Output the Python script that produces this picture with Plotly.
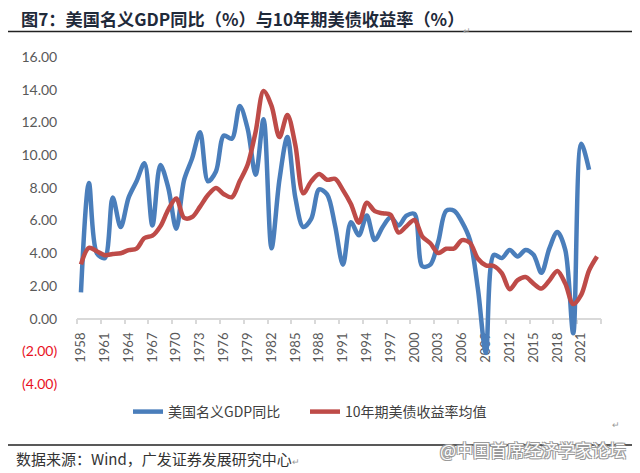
import plotly.graph_objects as go

years = list(range(1958, 2024))
gdp_yoy = [1.6, 8.3, 4.0, 3.7, 7.4, 5.6, 7.4, 8.4, 9.5, 5.7, 9.4, 8.0, 5.5, 8.5, 9.8, 11.4,
           8.4, 9.0, 11.2, 11.0, 13.0, 11.6, 8.8, 12.2, 4.3, 8.5, 11.1, 7.4, 5.6, 6.1, 7.9,
           7.6, 5.7, 3.3, 5.9, 5.1, 6.3, 4.8, 5.6, 6.2, 5.7, 6.3, 6.4, 3.2, 3.3, 4.7, 6.6,
           6.6, 5.9, 4.8, 1.8, -2.1, 3.9, 3.7, 4.2, 3.8, 4.2, 3.9, 2.8, 4.3, 5.3, 4.2, -0.9,
           10.7, 9.1]
gdp_years = years[:len(gdp_yoy)]
ust10y = [3.32, 4.33, 4.12, 3.88, 3.95, 4.00, 4.19, 4.28, 4.93, 5.07, 5.64, 6.67, 7.35,
          6.16, 6.21, 6.85, 7.56, 7.99, 7.61, 7.42, 8.41, 9.43, 11.43, 13.92, 13.01, 11.10,
          12.46, 10.62, 7.67, 8.39, 8.85, 8.49, 8.55, 7.86, 7.01, 5.87, 7.09, 6.57, 6.44,
          6.35, 5.26, 5.65, 6.03, 5.02, 4.61, 4.01, 4.27, 4.29, 4.80, 4.63, 3.66, 3.26,
          3.22, 2.78, 1.80, 2.35, 2.54, 2.14, 1.84, 2.33, 2.91, 2.14, 0.89, 1.45, 2.95, 3.80]

xtick_years = list(range(1958, 2022, 3))
xtick_labels = [str(y) for y in xtick_years]
ytick_vals = [-4, -2, 0, 2, 4, 6, 8, 10, 12, 14, 16]
ytick_labels = ['<span style="color:#E8101E">(4.00)</span>',
                '<span style="color:#E8101E">(2.00)</span>',
                "0.00", "2.00", "4.00", "6.00", "8.00", "10.00", "12.00", "14.00", "16.00"]

name_gdp = "美国名义GDP同比"
name_ust = "10年期美债收益率均值"
title_text = "图7：美国名义GDP同比（%）与10年期美债收益率（%）"
source_text = "数据来源：Wind，广发证券发展研究中心"
watermark = "@中国首席经济学家论坛"

# the page body adds an 8px margin; work in page pixels and shift
OFF = 8
W, H = 640 - OFF, 473 - OFF
L, R, T, B = 77 - OFF, 39, 57 - OFF, 89
PW, PH = W - L - R, H - T - B


def px(x):
    return (x - OFF - L) / PW


def py(y):
    return (H - B - (y - OFF)) / PH


CJK = "Noto Sans CJK SC"
NUM = "Lato, 'Noto Sans', sans-serif"

fig = go.Figure()
fig.add_trace(go.Scatter(x=gdp_years, y=gdp_yoy, mode="lines", name=name_gdp, legend="legend",
                         line=dict(color="#4A7EBB", width=4.5, shape="spline", smoothing=0.9)))
fig.add_trace(go.Scatter(x=years, y=ust10y, mode="lines", name=name_ust, legend="legend2",
                         line=dict(color="#BE4B48", width=4.5, shape="spline", smoothing=0.9)))

legend_common = dict(orientation="h", xanchor="left", yanchor="middle", y=py(412),
                     font=dict(family=CJK, size=14, color="#404040"),
                     bgcolor="rgba(0,0,0,0)")

fig.update_layout(
    width=W, height=H,
    margin=dict(l=L, r=R, t=T, b=B, autoexpand=False),
    paper_bgcolor="white", plot_bgcolor="white",
    showlegend=True,
    legend=dict(x=px(128), **legend_common),
    legend2=dict(x=px(305), **legend_common),
    title=dict(text=title_text, x=(21 - OFF) / W, xanchor="left", xref="container",
               y=1 - (20 - OFF) / H, yanchor="middle", yref="container", automargin=False,
               font=dict(family=CJK, size=17.2, color="#1F2A3A", weight="bold")),
    xaxis=dict(range=[1957.5, 2023.5], tickmode="array", tickvals=xtick_years,
               ticktext=xtick_labels, tickangle=-90, anchor="free", position=0.2,
               showline=True, linecolor="#D9D9D9", linewidth=1.5, showgrid=False,
               zeroline=False, ticks="outside", ticklen=8, tickcolor="rgba(0,0,0,0)",
               minor=dict(tick0=1957.5, dtick=3, ticks="outside", ticklen=5,
                          tickcolor="#D9D9D9", tickwidth=1.5, showgrid=False),
               tickfont=dict(family=NUM, size=13, color="#595959"), layer="below traces",
               automargin=False),
    yaxis=dict(range=[-4, 16], tickmode="array", tickvals=ytick_vals, ticktext=ytick_labels,
               showgrid=False, zeroline=False, showline=False, ticks="outside", ticklen=16,
               tickcolor="rgba(0,0,0,0)", automargin=False,
               tickfont=dict(family=NUM, size=14, color="#595959")),
)

fig.add_shape(type="line", xref="paper", yref="paper", x0=px(8), x1=px(640),
              y0=py(31.5), y1=py(31.5), line=dict(color="#222222", width=1.5))
fig.add_shape(type="line", xref="paper", yref="paper", x0=px(8), x1=px(640),
              y0=py(445), y1=py(445), line=dict(color="#222222", width=1.5))
fig.add_annotation(text="↵", xref="paper", yref="paper", x=px(473), y=py(22),
                   showarrow=False, font=dict(size=9, color="#999999"))
fig.add_annotation(text="↵", xref="paper", yref="paper", x=px(622), y=py(433),
                   showarrow=False, font=dict(size=9, color="#999999"))
fig.add_annotation(text=source_text + "<span style='font-size:9px;color:#999999'>↵</span>",
                   xref="paper", yref="paper", x=px(14), y=py(458),
                   xanchor="left", yanchor="middle", showarrow=False,
                   font=dict(family=CJK, size=15, color="#333333"))
fig.add_annotation(text=watermark, xref="paper", yref="paper", x=px(628), y=py(449),
                   xanchor="right", yanchor="middle", showarrow=False,
                   font=dict(family=CJK, size=17, color="white",
                             shadow="1px 1px 0 #9a9a9a, -1px -1px 0 #9a9a9a, 1px -1px 0 #9a9a9a, -1px 1px 0 #9a9a9a"))

fig.write_html("out.html")
